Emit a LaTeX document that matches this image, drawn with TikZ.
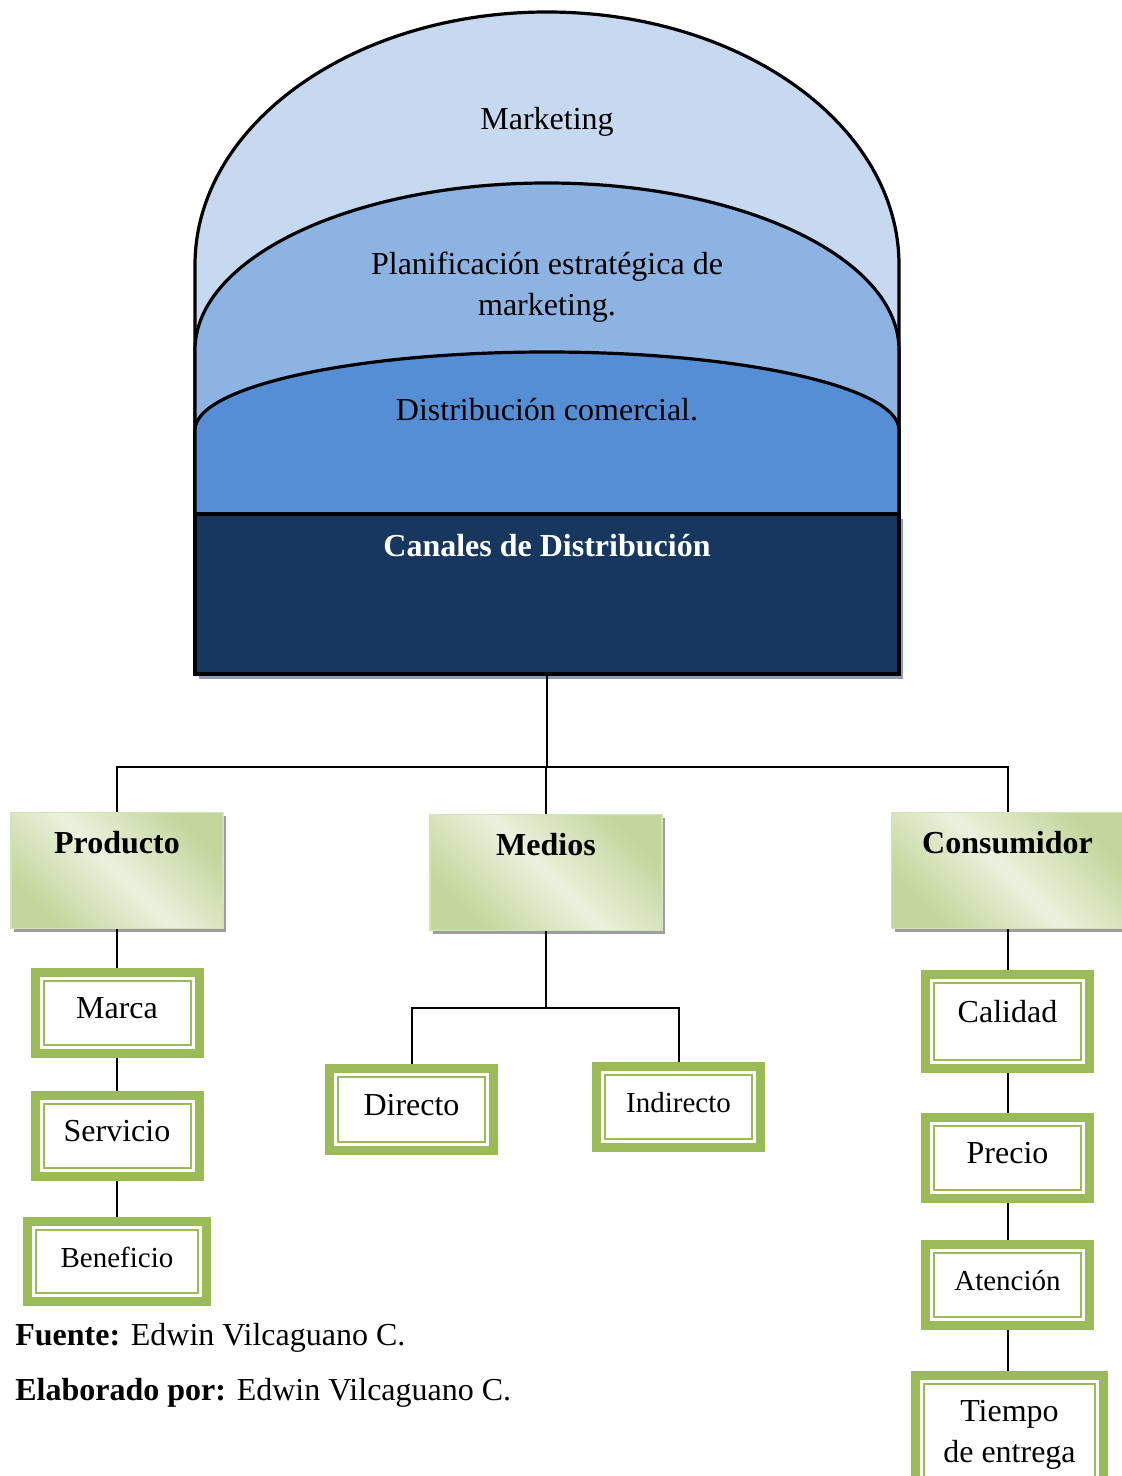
\documentclass[tikz,border=0pt]{standalone}
\usepackage{fontspec}
\setmainfont{Liberation Serif}
\usetikzlibrary{shadows}

\definecolor{mktblue}{HTML}{C6D9F1}
\definecolor{planblue}{HTML}{8DB3E2}
\definecolor{distblue}{HTML}{558ED5}
\definecolor{navy}{HTML}{17375E}
\definecolor{olive}{HTML}{9BBB59}
\definecolor{olivedark}{HTML}{C3D69B}
\definecolor{olivelight}{HTML}{EBF1DE}
\definecolor{shadowblue}{HTML}{8E9DB5}

\begin{document}
\begin{tikzpicture}[x=0.5pt, y=-0.5pt,
  dome/.style={draw=black, line width=1.6pt},
  domelabel/.style={font=\fontsize{16}{20.5}\selectfont, align=center},
  head/.style={shade, top color=olivedark, bottom color=olivedark, middle color=olivelight,
    shading angle=-45, draw=olivedark!70, line width=0.6pt, anchor=north,
    minimum width=116pt, inner ysep=0pt, text height=20.5pt, text depth=37.5pt,
    font=\bfseries\fontsize{16}{19}\selectfont,
    general shadow={shadow xshift=1.5pt, shadow yshift=-1.5pt, fill=black!38}},
  dblbox/.style={draw=olive, line width=4.5pt, fill=white, inner sep=0pt,
    minimum width=82pt, minimum height=40.5pt, font=\fontsize{16}{20.5}\selectfont,
    path picture={\draw[olive, line width=1pt]
      ([xshift=4.25pt, yshift=-4.25pt]path picture bounding box.north west) rectangle
      ([xshift=-4.25pt, yshift=4.25pt]path picture bounding box.south east);}},
  dbl/.style={dblbox, text height=1.5ex, text depth=.25ex},
  link/.style={draw=black, line width=1pt}]

  \useasboundingbox (0,0) rectangle (1122,1476);
  \clip (0,0) rectangle (1122,1476);

  % Nested domes
  \fill[mktblue] (195,512) -- (195,265) arc[start angle=180, end angle=0, x radius=176pt, y radius=126.5pt] -- (899,512) -- cycle;
  \draw[dome] (195,512) -- (195,265) arc[start angle=180, end angle=0, x radius=176pt, y radius=126.5pt] -- (899,512);
  \fill[planblue] (195,512) -- (195,350) arc[start angle=180, end angle=0, x radius=176pt, y radius=83.5pt] -- (899,512) -- cycle;
  \draw[dome] (195,512) -- (195,350) arc[start angle=180, end angle=0, x radius=176pt, y radius=83.5pt] -- (899,512);
  \fill[distblue] (195,512) -- (195,430) arc[start angle=180, end angle=0, x radius=176pt, y radius=39pt] -- (899,512) -- cycle;
  \draw[dome] (195,512) -- (195,430) arc[start angle=180, end angle=0, x radius=176pt, y radius=39pt] -- (899,512);

  \node[domelabel, anchor=base] (mkt) at (547,130) {Marketing};
  \node[domelabel] (plan) at (547,287) {Planificación estratégica de\\marketing.};
  \node[domelabel, anchor=base] (dist) at (547,420) {Distribución comercial.};

  % Main box
  \node[draw=black, line width=2.2pt, fill=navy, text=white, anchor=north,
    minimum width=352pt, inner ysep=0pt, text height=21pt, text depth=59pt,
    font=\bfseries\fontsize{16}{19}\selectfont,
    general shadow={shadow xshift=2pt, shadow yshift=-2.5pt, fill=shadowblue}]
    (canales) at (547,512) {Canales de Distribución};

  % First level
  \node[head, minimum width=106pt] (producto) at (117,812) {Producto};
  \node[head] (medios) at (546,814) {Medios};
  \node[head] (consumidor) at (1007.5,812) {Consumidor};

  \coordinate (bus) at (546,767);
  \draw[link] (canales.south) -- (canales.south |- bus);
  \draw[link] (producto.north) |- (consumidor.north |- bus) -- (consumidor.north);
  \draw[link] (medios.north) -- (medios.north |- bus);

  % Producto
  \node[dbl] (marca) at (117,1013) {Marca};
  \node[dbl] (servicio) at (117,1136) {Servicio};
  \node[dbl, minimum width=89.5pt, minimum height=40pt, font=\fontsize{14.5}{18}\selectfont] (beneficio) at (117,1261.5) {Beneficio};
  \draw[link] (producto) -- (marca) -- (servicio) -- (beneficio);

  % Medios
  \node[dbl, minimum height=41pt] (directo) at (411.5,1109.5) {Directo};
  \node[dbl, font=\fontsize{14.5}{18}\selectfont] (indirecto) at (678.5,1107) {Indirecto};
  \coordinate (mbus) at (546,1008);
  \draw[link] (medios) -- (mbus);
  \draw[link] (directo.north) |- (mbus) -| (indirecto.north);

  % Consumidor
  \node[dbl, minimum height=47pt, text depth=1.3ex] (calidad) at (1007.5,1021.5) {Calidad};
  \node[dbl] (precio) at (1007.5,1158) {Precio};
  \node[dbl, font=\fontsize{14.5}{18}\selectfont] (atencion) at (1007.5,1285) {Atención};
  \node[dblbox, align=center, anchor=north, minimum width=94pt, minimum height=60pt] (tiempo) at (1009.5,1370.5) {Tiempo\\de entrega};
  \draw[link] (consumidor) -- (calidad) -- (precio) -- (atencion) -- (atencion |- tiempo.north);

  % Footer
  \node[anchor=base west, inner sep=0pt, font=\fontsize{16}{19}\selectfont] (fuente) at (15,1345) {\textbf{Fuente:} Edwin Vilcaguano C.};
  \node[anchor=base west, inner sep=0pt, font=\fontsize{16}{19}\selectfont] (elaborado) at (15,1400) {\textbf{Elaborado por:} Edwin Vilcaguano C.};
\end{tikzpicture}
\end{document}
